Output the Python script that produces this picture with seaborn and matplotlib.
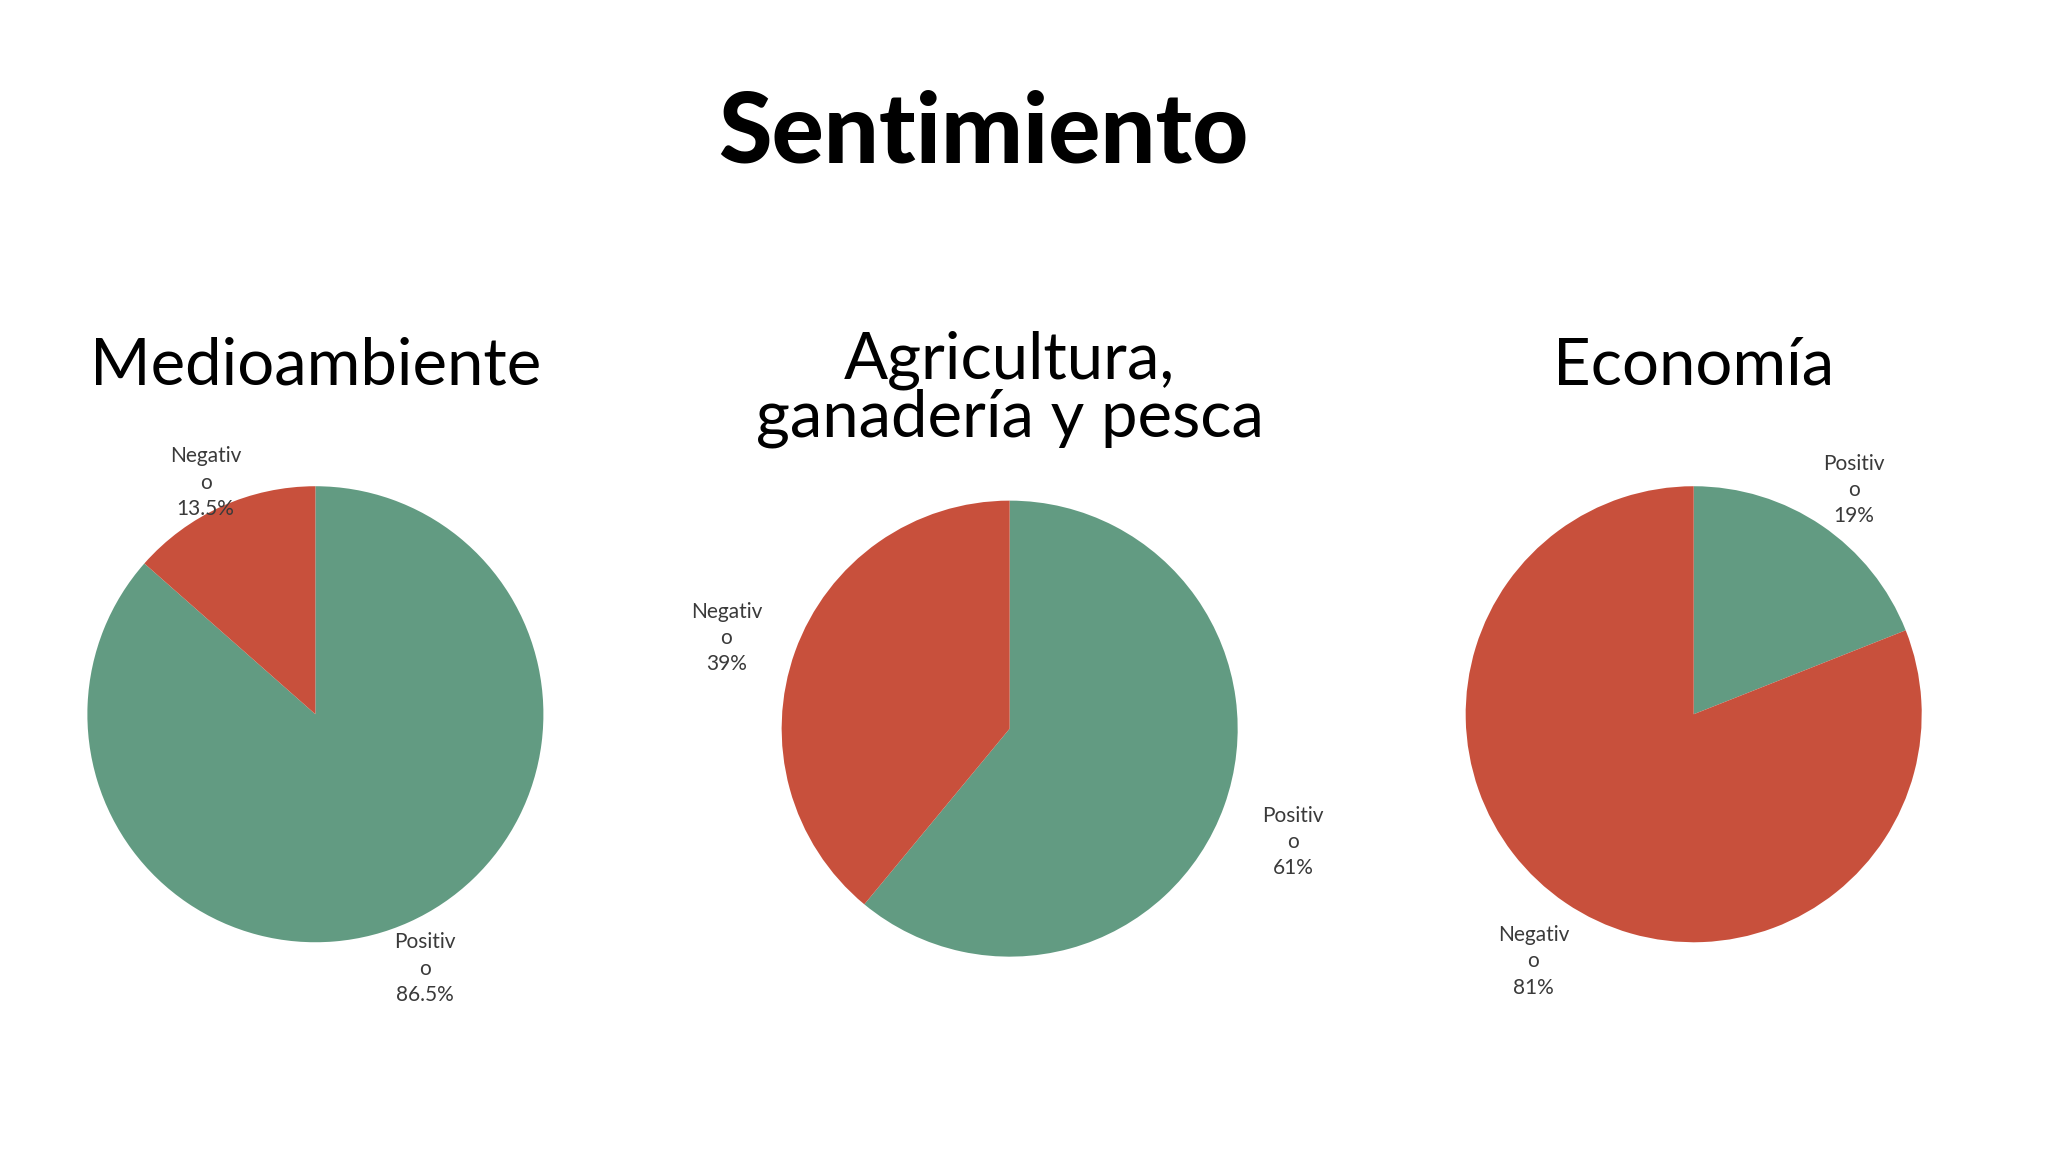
import matplotlib
matplotlib.use('Agg')
import matplotlib.pyplot as plt
import seaborn as sns

# Data
topics = ["Medioambiente", "Agricultura,\nganadería y pesca", "Economía"]
sentiments = ["Positivo", "Negativo"]
positivo = [86.5, 61, 19]
negativo = [13.5, 39, 81]
colors = ["#629B82", "#C8503C"]

sns.set_theme(style="white")
plt.rcParams['font.family'] = ['Lato', 'DejaVu Sans']

fig = plt.figure(figsize=(20.48, 11.52), dpi=100)
fig.text(0.48, 0.884, "Sentimiento", ha='center', va='center',
         fontsize=70, fontweight='black', color='black')

# layout of the three pies (figure fractions)
centers_x = [0.154, 0.493, 0.827]
centers_y = [0.380, 0.3675, 0.380]
title_y = [1.40, 1.23, 1.40]
label_dist = [1.17, 1.32, 1.25]
half_w = 0.167
half_h = 0.297

for i, topic in enumerate(topics):
    ax = fig.add_axes([centers_x[i] - half_w, centers_y[i] - half_h, 2 * half_w, 2 * half_h])
    vals = [positivo[i], negativo[i]]
    # the original wraps the label after the 7th letter
    labels = [f"{s[:-1]}\n{s[-1]}\n{v:g}%" for s, v in zip(sentiments, vals)]
    wedges, texts = ax.pie(vals, labels=labels, colors=colors, startangle=90,
                           counterclock=False, labeldistance=label_dist[i],
                           textprops=dict(fontsize=15, color='#3a3a3a', linespacing=1.4),
                           wedgeprops=dict(linewidth=0))
    for t in texts:
        t.set_ha('center')
        x, y = t.get_position()
        t.set_position((x, y - 0.05))  # slides sit labels a bit lower
    ax.set_xlim(-1.5, 1.5)
    ax.set_ylim(-1.5, 1.5)
    ax.set_aspect('equal')
    ax.text(0, title_y[i], topic, ha='center', va='bottom', fontsize=47,
            linespacing=0.98, color='black')
    ax.axis('off')

fig.savefig('out.png', dpi=100)
